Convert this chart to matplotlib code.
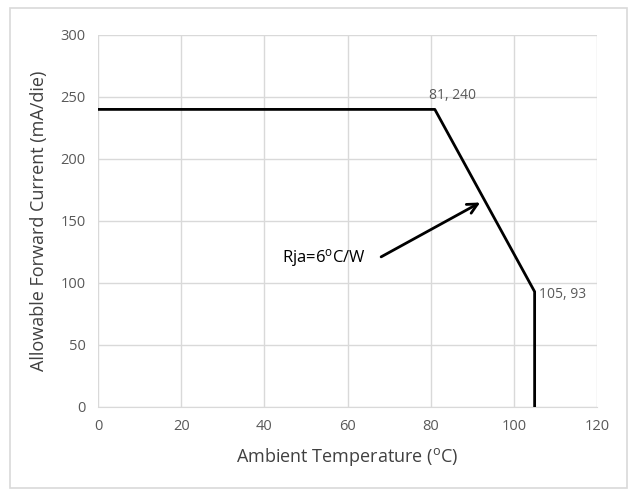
import matplotlib
matplotlib.use("Agg")
import matplotlib.pyplot as plt

# derating curve
temp = [0, 81, 105, 105]
current = [240, 240, 93, 0]

xticks = [0, 20, 40, 60, 80, 100, 120]
yticks = [0, 50, 100, 150, 200, 250, 300]

plt.rcParams['font.family'] = ['Open Sans', 'DejaVu Sans']
plt.rcParams['mathtext.default'] = 'regular'

fig = plt.figure(figsize=(6.29, 4.91), dpi=100)
ax = fig.add_axes([98 / 629, 1 - 407 / 491, 499 / 629, 372 / 491])

# outer chart border
fig.patches.append(plt.Rectangle((10 / 629, 3 / 491), 617 / 629, 480 / 491,
                                 transform=fig.transFigure, fill=False,
                                 edgecolor='#d9d9d9', linewidth=1.2))

ax.plot(temp, current, color='black', linewidth=2, zorder=3)

ax.set_xlim(0, 120)
ax.set_ylim(0, 300)
ax.set_xticks(xticks)
ax.set_yticks(yticks)
ax.grid(True, color='#d9d9d9', linewidth=1)
ax.set_axisbelow(True)
for s in ['top', 'right', 'left']:
    ax.spines[s].set_visible(False)
ax.spines['bottom'].set_color('#d9d9d9')
ax.tick_params(length=0, labelsize=10.5, labelcolor='#595959', pad=9)

ax.set_xlabel(r'Ambient Temperature ($^{o}$C)', fontsize=13, color='#404040', labelpad=8)
ax.set_ylabel('Allowable Forward Current (mA/die)', fontsize=13, color='#404040', labelpad=9)

ax.text(temp[1] - 1.5, current[1] + 5, '81, 240', fontsize=10, color='#595959', va='bottom')
ax.text(temp[2] + 1, current[2] - 2, '105, 93', fontsize=10, color='#595959', va='center')

ax.annotate('', xy=(92.5, 166), xytext=(67.5, 120),
            arrowprops=dict(arrowstyle='->', color='black', lw=2, mutation_scale=18))
ax.text(64.5, 120, r'Rja=6$^{o}$C/W', fontsize=12, color='black', ha='right', va='center')

fig.savefig('out.png', dpi=100)
